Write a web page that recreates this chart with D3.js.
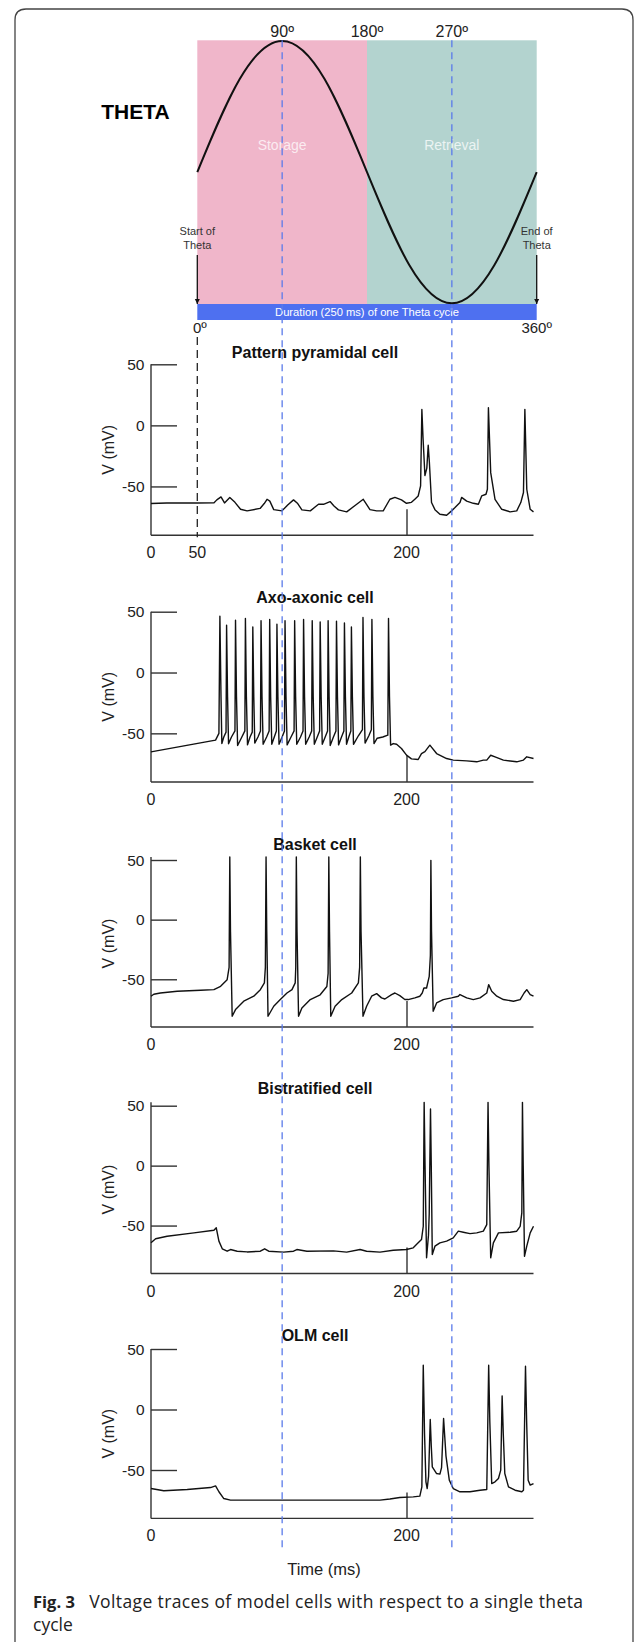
<!DOCTYPE html>
<html>
<head>
<meta charset="utf-8">
<script src="https://cdn.jsdelivr.net/npm/d3@7"></script>
<style>
  html, body { margin: 0; padding: 0; background: #fff; }
  svg { display: block; }
</style>
</head>
<body>
<svg id="fig" width="635" height="1642"></svg>
<script>
// ---------- theta cycle ----------
const thetaPhases = [0, 45, 90, 135, 180, 225, 270, 315, 360];
const thetaLevels = [0, 0.71, 1, 0.71, 0, -0.71, -1, -0.71, 0];
const phaseTickLabels = [90, 180, 270];
const phaseMarkers = [90, 270];
const halfNames = ["Storage", "Retrieval"];
const halfEdges = [0, 180, 360];
const halfColors = ["#F0B6CA", "#B3D3CF"];

// ---------- membrane voltage traces: [time (ms), V (mV)] ----------
const pyramidalTrace = [
  [0,-64],[17,-63.5],[50,-63.5],[62,-63.3],[64,-61],[67,-58.6],[69.5,-63.5],[73.3,-59],[77,-63],
  [81,-68.7],[85.7,-70],[95,-68],[98,-64],[100,-60.5],[102,-62],[104.8,-69],[110.7,-70],[115,-65],
  [119,-61],[122,-64],[125,-69.2],[131,-70],[136.9,-64.6],[140.5,-64.6],[145.2,-62.4],[148,-66],
  [151.2,-69.2],[157.1,-70.8],[164.3,-64.6],[169,-60.5],[171,-64],[173.8,-69],[178.6,-70],[183.3,-70],
  [188.1,-60.5],[191.7,-59],[196.4,-61],[200,-63.8],[203.9,-63],[207,-60],[209.2,-57.8],[211.1,-49.6],
  [212.1,13],[213,-10],[214.5,-41],[216,-35],[217.1,-16.3],[218,-30],[219.7,-63.2],[222.4,-69],
  [226.3,-72.8],[231.6,-73.6],[235.5,-70],[238.2,-67.3],[242.1,-63.2],[243.4,-59],[247.4,-62],
  [252.6,-63.8],[256.6,-64.6],[259.2,-57.8],[262.6,-56.4],[263.7,-52.3],[264.5,14.4],[266.3,-38.7],
  [269.7,-60.5],[275,-68.7],[281.6,-70.8],[286.8,-70],[290,-63.2],[292.1,-55],[293.2,13.1],
  [294.7,-52.3],[297.4,-68.7],[300,-70.8]
];

const axoAxonicTrace = [
  [0,-65.2],[63.1,-55.6],[65.5,-50],[66.2,46.3],[67,-20],[67.6,-58.4],[69,-53],[70.6,-49],[71,38.9],
  [71.7,-20],[72.4,-58.5],[74.5,-53],[77,-48],[77.4,43],[78.1,-20],[78.9,-60],[81.5,-54],[84.1,-48],
  [84.5,44.4],[85.2,-20],[86,-59.5],[87.8,-53],[89.4,-49],[89.8,37.5],[90.5,-20],[91.2,-58],[93.5,-53],
  [95.3,-48],[95.7,42.5],[96.4,-20],[97.2,-59],[99.7,-53],[101.5,-48],[101.9,43.6],[102.6,-20],
  [103.4,-59],[105.2,-53],[106.7,-48],[107.1,39.7],[107.8,-20],[108.6,-59],[110.8,-53],[112.5,-48],
  [112.9,42.5],[113.6,-20],[114.4,-59.5],[117.2,-53],[119.4,-48],[119.8,42.5],[120.5,-20],[121.3,-59],
  [124,-53],[125.8,-48],[126.2,43.6],[126.9,-20],[127.7,-59],[130.2,-53],[132,-48],[132.4,42.5],
  [133.1,-20],[133.9,-59],[136,-53],[137.7,-48],[138.1,41.6],[138.8,-20],[139.6,-59],[141.7,-53],
  [143.4,-48],[143.8,42.5],[144.5,-20],[145.3,-60],[147.6,-53],[149.4,-48],[149.8,42.2],[150.5,-20],
  [151.3,-59.5],[153.4,-53],[155.1,-48],[155.5,40.8],[156.2,-20],[157,-59],[158.6,-53],[160.1,-48],
  [160.5,37.5],[161.2,-20],[162,-59],[165.5,-52],[168.4,-47],[168.8,45.2],[169.5,-20],[170.3,-58],
  [173,-52],[174.8,-47],[175.2,43.6],[175.9,-20],[176.7,-58.4],[179,-54],[183,-53],[186.6,-51.5],
  [187.1,44.4],[187.8,-20],[188.6,-59.7],[190.5,-58.4],[192.9,-59],[196.4,-62.5],[200,-67.9],
  [203.9,-71],[209.2,-71.5],[211.8,-66.6],[214.5,-65],[218.4,-59.7],[223.7,-66.6],[231.6,-70.7],
  [236.8,-72],[247.4,-72.6],[255.3,-73.4],[260.5,-72],[263.2,-72],[266.3,-68],[269.7,-69.3],
  [276.3,-72],[286.8,-73.4],[292.1,-72],[294.7,-69.3],[300,-70.7]
];

const basketTrace = [
  [0,-64.2],[3,-62.5],[10.1,-61.5],[28.3,-60],[52.4,-59.2],[61.9,-58.7],[66.7,-55.9],[71.4,-50.3],
  [72.8,-40],[73.3,52.5],[73.8,-10],[75,-81],[77.4,-75.4],[83.3,-68.4],[90.5,-64.2],[95.2,-58.7],
  [98.1,-53],[98.8,-40],[99.3,52.5],[99.8,-10],[100.7,-81],[104.8,-72.6],[109.5,-67],[114.3,-61.5],
  [117.9,-58.7],[120.2,-53],[120.6,-40],[121,52.5],[121.5,-10],[122.6,-81],[125,-74],[131,-67],
  [138.1,-63],[142.9,-56],[143.8,-45],[144.3,52.5],[144.8,-10],[145.7,-81],[148.8,-72.6],[153.6,-67],
  [160.7,-61.5],[165.5,-53],[166.4,-40],[166.9,52.5],[167.4,-10],[168.8,-81],[171.4,-72.6],[175,-64.2],
  [178.6,-62],[182.1,-65.6],[184.5,-66.5],[189.3,-62.8],[191.7,-61.5],[195.2,-63.7],[198.8,-67],
  [201.3,-67],[206.6,-65.6],[210.5,-64.2],[212.4,-61.5],[213.7,-57.3],[215.8,-57.3],[217.9,-47.5],
  [218.8,-30],[219.2,49.7],[219.7,-10],[221,-76.8],[223.7,-69.8],[228.9,-67],[235.5,-65.6],
  [240.8,-64.2],[242.1,-62.8],[247.4,-65.6],[252.6,-67],[257.9,-65.6],[263.2,-61.5],[264.7,-54.5],
  [267.1,-60],[271.1,-64.2],[276.3,-67],[284.2,-68.4],[289.5,-67],[292.6,-61.5],[294.7,-58.7],
  [297.4,-62.8],[300,-64.2]
];

const bistratifiedTrace = [
  [0,-64.4],[5,-61],[17.4,-58.9],[46.4,-56.1],[61.9,-53.9],[63.6,-51.9],[65.5,-63],[67.9,-69.4],
  [71.4,-71.4],[73.8,-70],[78.6,-71.4],[85.7,-72],[95.2,-71.4],[98.3,-69.4],[101.2,-71.4],[111.9,-72.2],
  [119,-71.4],[121.4,-70],[128.6,-71.4],[147.6,-71.1],[157.1,-72.2],[166.7,-70],[171.4,-71.4],
  [181,-72.2],[190.5,-70.6],[200,-70],[205.3,-68.6],[209.2,-64.4],[211.8,-61.7],[213.2,-50.6],
  [213.9,52.8],[214.6,0],[215.8,-76.9],[217.3,-58],[217.9,-40],[218.9,47.2],[219.5,0],[220.3,-74.2],
  [222.4,-67.2],[226.3,-64.4],[231.6,-63],[236.8,-60.3],[240.8,-54.7],[244.7,-55.6],[250,-56.7],
  [255.3,-56.1],[260.5,-54.7],[263.2,-49.2],[264.2,52.8],[264.9,0],[266.3,-76.9],[268.4,-64.4],
  [272.4,-56.1],[281.6,-55.6],[286.8,-54.7],[289.5,-50.6],[290.8,-39.4],[291.3,52.8],[291.9,0],
  [292.9,-75.6],[294.7,-67.2],[297.4,-56.1],[300,-50.6]
];

const olmTrace = [
  [0,-65.3],[13.8,-67.2],[39.1,-66.1],[59.5,-64.5],[63.1,-63.1],[65.5,-68],[69,-73.6],[73.8,-74.9],
  [100,-74.9],[147.6,-74.9],[181,-74.9],[188.1,-74],[195.2,-72.7],[205.3,-72.2],[210.5,-71.6],
  [212.1,-63.9],[213.2,36.6],[214.2,-20],[215.3,-59.8],[216.3,-65.3],[217.4,-55],[218.7,-8.3],
  [219.5,-30],[220.3,-47.4],[223.7,-52.9],[226.3,-53.4],[227.6,-48],[229.2,-7.4],[231.1,-38.5],
  [233.7,-58.4],[236.8,-65.3],[242.1,-68],[250,-68],[257.9,-66.7],[263.2,-66.1],[264.7,36.6],
  [265.6,-10],[267.1,-61.2],[269.7,-59.8],[272.4,-57],[274.2,-50.1],[275.3,11.3],[276.2,-20],
  [277.4,-52.9],[280.3,-63.9],[285.5,-66.7],[290.8,-68],[292.1,-66.7],[293.7,35.8],[294.6,-10],
  [295.8,-58.4],[297.4,-62.5],[300,-61.2]
];

const cellNames = ["Pattern pyramidal cell", "Axo-axonic cell", "Basket cell", "Bistratified cell", "OLM cell"];
const cellTraces = [pyramidalTrace, axoAxonicTrace, basketTrace, bistratifiedTrace, olmTrace];
const voltageTicks = [-50, 0, 50];
const timeTicks = [0, 200];
const thetaOnsetMs = 50;

// ---------- drawing ----------
const FONT = "'Liberation Sans', Arial, Helvetica, sans-serif";
const CAPTION_FONT = "'Open Sans', 'Noto Sans', sans-serif";
const svg = d3.select("#fig");
const W = 635, H = 1642;

// figure frame
svg.append("path")
  .attr("d", `M15,${H + 2} V20 Q15,9 26,9 H622 Q633,9 633,20 V${H + 2}`)
  .attr("fill", "none").attr("stroke", "#444").attr("stroke-width", 1.3);

// phase scale shared by the theta diagram and the phase markers
const phaseX = d3.scaleLinear().domain([0, 360]).range([197.3, 536.7]);
const thetaY = d3.scaleLinear().domain([-1, 1]).range([303.3, 41]);
const rectTop = 40.3, barTop = 304, barBottom = 320;

const theta = svg.append("g");
theta.selectAll("rect.half")
  .data(halfNames)
  .join("rect")
  .attr("class", "half")
  .attr("x", (d, i) => phaseX(halfEdges[i]))
  .attr("width", (d, i) => phaseX(halfEdges[i + 1]) - phaseX(halfEdges[i]))
  .attr("y", rectTop)
  .attr("height", barTop - rectTop)
  .attr("fill", (d, i) => halfColors[i]);

theta.selectAll("text.half")
  .data(halfNames)
  .join("text")
  .attr("class", "half")
  .attr("x", (d, i) => phaseX((halfEdges[i] + halfEdges[i + 1]) / 2))
  .attr("y", 150)
  .attr("text-anchor", "middle")
  .attr("font-family", FONT).attr("font-size", 14)
  .attr("fill", "#fff").attr("fill-opacity", 0.75)
  .text(d => d);

theta.append("rect")
  .attr("x", phaseX(0)).attr("width", phaseX(360) - phaseX(0))
  .attr("y", barTop).attr("height", barBottom - barTop)
  .attr("fill", "#4E70F0");

theta.append("text")
  .attr("x", phaseX(180)).attr("y", 315.5)
  .attr("text-anchor", "middle")
  .attr("font-family", FONT).attr("font-size", 11.2)
  .attr("fill", "#fff")
  .text("Duration (250 ms) of one Theta cycle");

const thetaLine = d3.line()
  .x((d, i) => phaseX(thetaPhases[i]))
  .y(d => thetaY(d))
  .curve(d3.curveNatural);
theta.append("path")
  .attr("d", thetaLine(thetaLevels))
  .attr("fill", "none").attr("stroke", "#111").attr("stroke-width", 2);

theta.append("text")
  .attr("x", 135.5).attr("y", 119)
  .attr("text-anchor", "middle")
  .attr("font-family", FONT).attr("font-size", 21).attr("font-weight", "bold")
  .attr("fill", "#000")
  .text("THETA");

theta.selectAll("text.phase")
  .data(phaseTickLabels)
  .join("text")
  .attr("class", "phase")
  .attr("x", d => phaseX(d))
  .attr("y", 36.5)
  .attr("text-anchor", "middle")
  .attr("font-family", FONT).attr("font-size", 16)
  .attr("fill", "#222")
  .text(d => d + "º");

theta.append("text")
  .attr("x", phaseX(0) + 2.5).attr("y", 333)
  .attr("text-anchor", "middle")
  .attr("font-family", FONT).attr("font-size", 15).attr("fill", "#222")
  .text("0º");
theta.append("text")
  .attr("x", phaseX(360)).attr("y", 333)
  .attr("text-anchor", "middle")
  .attr("font-family", FONT).attr("font-size", 15).attr("fill", "#222")
  .text("360º");

// start / end arrows
const defs = svg.append("defs");
defs.append("marker")
  .attr("id", "arrowhead")
  .attr("viewBox", "0 0 10 10").attr("refX", 10).attr("refY", 5)
  .attr("markerWidth", 5.5).attr("markerHeight", 6).attr("markerUnits", "userSpaceOnUse")
  .attr("orient", "auto")
  .append("path").attr("d", "M0,0 L10,5 L0,10 Z").attr("fill", "#111");

[[0, ["Start of", "Theta"]], [360, ["End of", "Theta"]]].forEach(([ph, lines]) => {
  const t = theta.append("text")
    .attr("text-anchor", "middle")
    .attr("font-family", FONT).attr("font-size", 11)
    .attr("fill", "#333");
  lines.forEach((s, k) => {
    t.append("tspan").attr("x", phaseX(ph)).attr("y", 235 + k * 13.8).text(s);
  });
  theta.append("line")
    .attr("x1", phaseX(ph)).attr("x2", phaseX(ph))
    .attr("y1", 255).attr("y2", barTop)
    .attr("stroke", "#111").attr("stroke-width", 1.3)
    .attr("marker-end", "url(#arrowhead)");
});

// ---------- cell panels ----------
const timeX = d3.scaleLinear()
  .domain([0, thetaOnsetMs, 200, 300])
  .range([151, phaseX(0), 406.5, 533.5]);

const panelTops = [364.3, 611.7, 860, 1105.7, 1349];
const panelBottoms = [535.3, 782, 1027, 1273.5, 1518.4];
const titleBaselines = [358.2, 603, 849.8, 1094.2, 1341];
const AX = "#333";

cellNames.forEach((name, i) => {
  const data = cellTraces[i];
  const y = d3.scaleLinear().domain([-90, 50]).range([panelBottoms[i], panelTops[i]]);
  const g = svg.append("g");
  const top = Math.max(50, d3.max(data, d => d[1]));

  // title
  g.append("text")
    .attr("x", 315).attr("y", titleBaselines[i])
    .attr("text-anchor", "middle")
    .attr("font-family", FONT).attr("font-size", 16).attr("font-weight", "bold")
    .attr("fill", "#111")
    .text(name);

  // voltage axis: inward ticks
  g.append("line")
    .attr("x1", timeX(0)).attr("x2", timeX(0))
    .attr("y1", y(top)).attr("y2", y(-90))
    .attr("stroke", AX).attr("stroke-width", 1.4);
  const yAxis = g.append("g")
    .attr("transform", `translate(${timeX(0)},0)`)
    .call(d3.axisRight(y).tickValues(voltageTicks).tickSize(26).tickFormat(""));
  yAxis.select(".domain").remove();
  yAxis.selectAll(".tick line").attr("stroke", AX).attr("stroke-width", 1.4);

  g.selectAll("text.vt")
    .data(voltageTicks)
    .join("text")
    .attr("class", "vt")
    .attr("x", 144.5).attr("y", d => y(d)).attr("dy", "0.36em")
    .attr("text-anchor", "end")
    .attr("font-family", FONT).attr("font-size", 15.5).attr("fill", "#222")
    .text(d => d);

  g.append("text")
    .attr("transform", `translate(114,${(y(50) + y(-90)) / 2}) rotate(-90)`)
    .attr("text-anchor", "middle")
    .attr("font-family", FONT).attr("font-size", 16).attr("fill", "#222")
    .text("V (mV)");

  // time axis: upward tick at 200 ms
  const xAxis = g.append("g")
    .attr("transform", `translate(0,${y(-90)})`)
    .call(d3.axisTop(timeX).tickValues([200]).tickSize(26).tickFormat(""));
  xAxis.select(".domain").attr("stroke", AX).attr("stroke-width", 1.4)
    .attr("d", `M${timeX(0)},0H${timeX(300)}`);
  xAxis.selectAll(".tick line").attr("stroke", AX).attr("stroke-width", 1.4);

  const labels = i === 0 ? [0, thetaOnsetMs, 200] : timeTicks;
  g.selectAll("text.tt")
    .data(labels)
    .join("text")
    .attr("class", "tt")
    .attr("x", d => timeX(d)).attr("y", y(-90) + 23)
    .attr("text-anchor", "middle")
    .attr("font-family", FONT).attr("font-size", 16).attr("fill", "#222")
    .text(d => d);

  // theta onset marker in the first panel
  if (i === 0) {
    g.append("line")
      .attr("x1", timeX(thetaOnsetMs)).attr("x2", timeX(thetaOnsetMs))
      .attr("y1", 337).attr("y2", y(-90) + 2)
      .attr("stroke", "#222").attr("stroke-width", 1.3)
      .attr("stroke-dasharray", "8,5");
  }

  // voltage trace
  g.append("path")
    .attr("d", d3.line().x(d => timeX(d[0])).y(d => y(d[1]))(data))
    .attr("fill", "none").attr("stroke", "#111").attr("stroke-width", 1.4)
    .attr("stroke-linejoin", "round");
});

// time axis title
svg.append("text")
  .attr("x", 324).attr("y", 1575)
  .attr("text-anchor", "middle")
  .attr("font-family", FONT).attr("font-size", 16.5).attr("fill", "#222")
  .text("Time (ms)");

// phase markers running through every panel
svg.selectAll("line.marker")
  .data(phaseMarkers)
  .join("line")
  .attr("class", "marker")
  .attr("x1", d => phaseX(d)).attr("x2", d => phaseX(d))
  .attr("y1", rectTop).attr("y2", 1551)
  .attr("stroke", "#5A7BEA").attr("stroke-width", 1.3)
  .attr("stroke-dasharray", "7,5");

// caption
const cap = svg.append("text")
  .attr("x", 33).attr("y", 1607.7)
  .attr("font-family", CAPTION_FONT)
  .attr("font-size", 17.5).attr("fill", "#222");
cap.append("tspan").attr("font-weight", "bold").attr("font-size", 16.5).text("Fig. 3");
cap.append("tspan").attr("x", 89.3)
  .attr("textLength", 493.7).attr("lengthAdjust", "spacing")
  .text("Voltage traces of model cells with respect to a single theta");
svg.append("text")
  .attr("x", 33).attr("y", 1630.5)
  .attr("font-family", CAPTION_FONT)
  .attr("font-size", 17.5).attr("fill", "#222")
  .text("cycle");
</script>
</body>
</html>
